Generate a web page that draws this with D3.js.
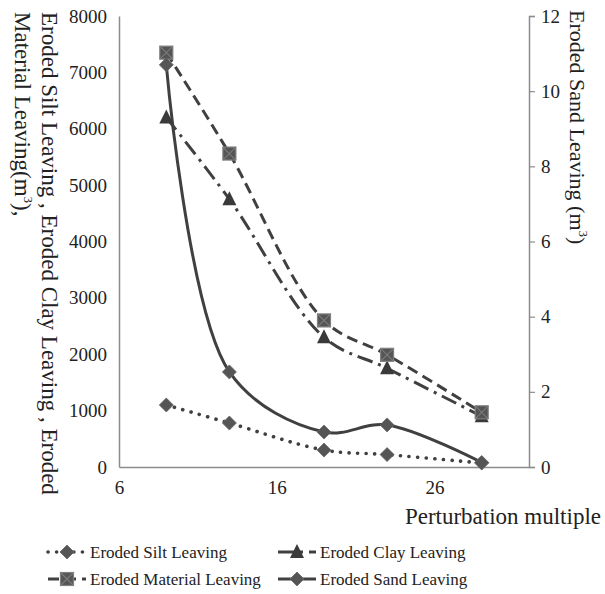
<!DOCTYPE html>
<html>
<head>
<meta charset="utf-8">
<script src="https://cdn.jsdelivr.net/npm/d3@7"></script>
<style>
  body { margin: 0; background: #fff; }
  text { font-family: "Liberation Serif", "Times New Roman", serif; fill: #222; }
</style>
</head>
<body>
<svg id="chart" width="605" height="594"></svg>
<script>
// Data
const multiples = [9, 13, 19, 23, 29];
const siltLeaving = [1100, 780, 300, 220, 70];
const clayLeaving = [6200, 4750, 2300, 1750, 900];
const materialLeaving = [7350, 5560, 2600, 1990, 970];
const sandLeaving = [10.7, 2.53, 0.93, 1.12, 0.12];

const xTicks = [6, 16, 26];
const leftTicks = [0, 1000, 2000, 3000, 4000, 5000, 6000, 7000, 8000];
const rightTicks = [0, 2, 4, 6, 8, 10, 12];

// Layout
const plot = {left: 119, right: 529, top: 16, bottom: 467};
const lineColor = "#404040";
const markColor = "#555555";
const axisColor = "#8c8c8c";

const svg = d3.select("#chart");

const xScale = d3.scaleLinear().domain([6, 32]).range([plot.left, plot.right]);
const yLeft = d3.scaleLinear().domain([0, 8000]).range([plot.bottom, plot.top]);
const yRight = d3.scaleLinear().domain([0, 12]).range([plot.bottom, plot.top]);

// Axes
const xAxis = svg.append("g")
  .attr("transform", `translate(0, ${plot.bottom})`)
  .call(d3.axisBottom(xScale).tickValues(xTicks).tickFormat(d3.format("d")).tickSize(0).tickPadding(14));

const leftAxis = svg.append("g")
  .attr("transform", `translate(${plot.left}, 0)`)
  .call(d3.axisLeft(yLeft).tickValues(leftTicks).tickFormat(d3.format("d")).tickSize(0).tickPadding(12));

const rightAxis = svg.append("g")
  .attr("transform", `translate(${plot.right}, 0)`)
  .call(d3.axisRight(yRight).tickValues(rightTicks).tickFormat(d3.format("d")).tickSize(6).tickSizeOuter(6).tickPadding(6));

[xAxis, leftAxis, rightAxis].forEach(g => {
  g.attr("font-family", null).attr("font-size", null);
  g.selectAll("path.domain").attr("stroke", axisColor).attr("stroke-width", 1.5);
  g.selectAll(".tick line").attr("stroke", axisColor).attr("stroke-width", 1.2);
  g.selectAll(".tick text")
    .attr("font-size", 19)
    .attr("fill", "#222");
});

// Axis titles
const leftTitle = svg.append("text")
  .attr("transform", "translate(42, 12) rotate(90)")
  .attr("font-size", 23);
leftTitle.append("tspan").attr("x", 0).attr("dy", 0)
  .text("Eroded Silt Leaving , Eroded Clay Leaving , Eroded");
const l2 = leftTitle.append("tspan").attr("x", 0).attr("dy", 27);
l2.append("tspan").text("Material Leaving(m");
l2.append("tspan").attr("dy", -9).attr("font-size", 13).text("3");
l2.append("tspan").attr("dy", 9).text("),");

const rightTitle = svg.append("text")
  .attr("transform", "translate(570, 10) rotate(90)")
  .attr("font-size", 22);
rightTitle.append("tspan").text("Eroded Sand Leaving (m");
rightTitle.append("tspan").attr("dy", -9).attr("font-size", 13).text("3");
rightTitle.append("tspan").attr("dy", 9).text(")");

svg.append("text")
  .attr("x", 601)
  .attr("y", 524)
  .attr("text-anchor", "end")
  .attr("font-size", 23)
  .text("Perturbation multiple");

// Series definitions
const series = [
  {name: "Eroded Silt Leaving", values: siltLeaving, y: yLeft, dash: "0.1 8.5", cap: "round", width: 3.6, marker: "diamond"},
  {name: "Eroded Clay Leaving", values: clayLeaving, y: yLeft, dash: "16 6 3 6", cap: "butt", width: 3, marker: "triangle"},
  {name: "Eroded Material Leaving", values: materialLeaving, y: yLeft, dash: "11 6", cap: "butt", width: 3, marker: "square"},
  {name: "Eroded Sand Leaving", values: sandLeaving, y: yRight, dash: null, cap: "butt", width: 3, marker: "diamond"}
];

function drawMarker(g, type, cx, cy) {
  if (type === "diamond") {
    g.append("path")
      .attr("d", `M${cx},${cy - 7}L${cx + 7},${cy}L${cx},${cy + 7}L${cx - 7},${cy}Z`)
      .attr("fill", markColor).attr("stroke", "#666").attr("stroke-width", 0.8);
  } else if (type === "triangle") {
    g.append("path")
      .attr("d", `M${cx},${cy - 8}L${cx + 7},${cy + 6}L${cx - 7},${cy + 6}Z`)
      .attr("fill", "#3a3a3a");
  } else if (type === "square") {
    const s = 6.5;
    g.append("rect")
      .attr("x", cx - s).attr("y", cy - s).attr("width", 2 * s).attr("height", 2 * s)
      .attr("fill", markColor).attr("stroke", "#808080").attr("stroke-width", 1.2);
    g.append("path")
      .attr("d", `M${cx - s},${cy - s}L${cx + s},${cy + s}M${cx + s},${cy - s}L${cx - s},${cy + s}`)
      .attr("stroke", "#7a7a7a").attr("stroke-width", 1.2);
  }
}

const lineGroup = svg.append("g");
const markGroup = svg.append("g");

series.forEach(s => {
  const pts = multiples.map((m, i) => [xScale(m), s.y(s.values[i])]);
  const line = d3.line().curve(d3.curveCatmullRom.alpha(0.5));
  lineGroup.append("path")
    .attr("d", line(pts))
    .attr("fill", "none")
    .attr("stroke", lineColor)
    .attr("stroke-width", s.width)
    .attr("stroke-linecap", s.cap)
    .attr("stroke-dasharray", s.dash);
  pts.forEach(p => drawMarker(markGroup, s.marker, p[0], p[1]));
});

// Legend
const legendPos = [
  {x: 48, y: 552},
  {x: 278, y: 552},
  {x: 48, y: 579},
  {x: 278, y: 579}
];
series.forEach((s, i) => {
  const pos = legendPos[i];
  const g = svg.append("g");
  g.append("line")
    .attr("x1", pos.x).attr("x2", pos.x + 38)
    .attr("y1", pos.y).attr("y2", pos.y)
    .attr("stroke", lineColor)
    .attr("stroke-width", s.width)
    .attr("stroke-linecap", s.cap)
    .attr("stroke-dasharray", s.dash);
  drawMarker(g, s.marker, pos.x + 19, pos.y);
  g.append("text")
    .attr("x", pos.x + 42)
    .attr("y", pos.y + 6)
    .attr("font-size", 17)
    .text(s.name);
});
</script>
</body>
</html>
